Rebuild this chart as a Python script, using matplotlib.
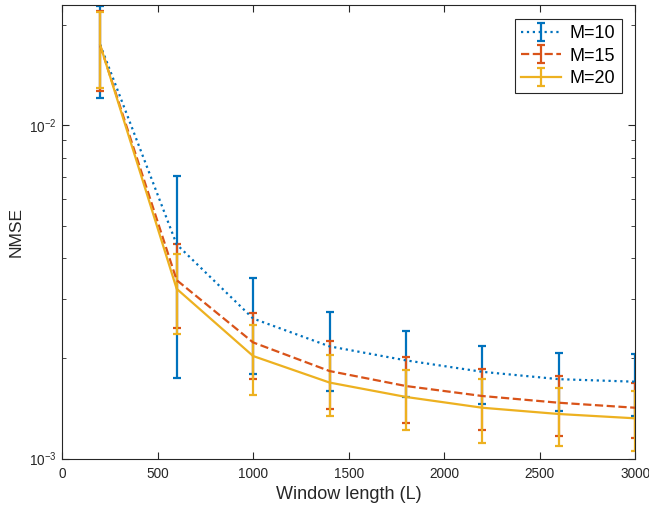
import matplotlib
matplotlib.use("Agg")
import matplotlib.pyplot as plt
from matplotlib.ticker import FixedLocator, FuncFormatter, NullFormatter
import numpy as np

plt.rcParams['font.family'] = ['Liberation Sans', 'DejaVu Sans']
plt.rcParams['mathtext.default'] = 'regular'

# window lengths
L = [200, 600, 1000, 1400, 1800, 2200, 2600, 3000]

# NMSE means and error half-widths
m10 = [0.01744, 0.00439, 0.00263, 0.00217, 0.00197, 0.00182, 0.00173, 0.00170]
e10 = [0.00533, 0.00265, 0.00084, 0.00058, 0.00044, 0.00036, 0.00034, 0.00036]
m15 = [0.01735, 0.00343, 0.00223, 0.00183, 0.00165, 0.00154, 0.00147, 0.00142]
e15 = [0.00470, 0.00096, 0.00050, 0.00042, 0.00037, 0.00032, 0.00030, 0.00027]
m20 = [0.01740, 0.00323, 0.00203, 0.00169, 0.00153, 0.00142, 0.00136, 0.00132]
e20 = [0.00445, 0.00087, 0.00048, 0.00035, 0.00031, 0.00031, 0.00027, 0.00027]

labels = ['M=10', 'M=15', 'M=20']
colors = ['#0072BD', '#D95319', '#EDB120']
styles = [':', '--', '-']

fig = plt.figure(figsize=(6.49, 5.08), dpi=100)
ax = fig.add_axes([0.0955, 0.0974, 0.8835, 0.8922])

for m, e, lab, c, ls in zip([m10, m15, m20], [e10, e15, e20], labels, colors, styles):
    ax.errorbar(L, m, yerr=e, color=c, linestyle=ls, linewidth=1.6,
                elinewidth=1.6, capsize=3, capthick=1.6, label=lab)

ax.set_yscale('log')
ax.set_xlim(0, 3000)
ax.set_ylim(1e-3, 0.0229)
ax.set_xticks(np.arange(0, 3001, 500))
ax.yaxis.set_major_locator(FixedLocator([1e-3, 1e-2]))
ax.yaxis.set_major_formatter(FuncFormatter(
    lambda v, p: '$10^{%d}$' % int(round(np.log10(v)))))
ax.yaxis.set_minor_formatter(NullFormatter())

gray = '#262626'
for s in ax.spines.values():
    s.set_color(gray)
    s.set_linewidth(0.8)
ax.tick_params(which='both', direction='in', top=True, right=True,
               colors=gray, labelsize=9.8)
ax.tick_params(which='major', length=5)
ax.tick_params(which='minor', length=3)
ax.tick_params(axis='x', pad=6)

ax.set_xlabel('Window length (L)', fontsize=13, color=gray)
ax.set_ylabel('NMSE', fontsize=12.5, color=gray)

leg = ax.legend(loc='upper right', fontsize=13, fancybox=False,
                edgecolor=gray, framealpha=1, handlelength=2.2,
                borderaxespad=0.75, labelspacing=0.3, handletextpad=0.5,
                borderpad=0.35)
leg.get_frame().set_linewidth(0.8)

fig.savefig('out.png', dpi=100)
